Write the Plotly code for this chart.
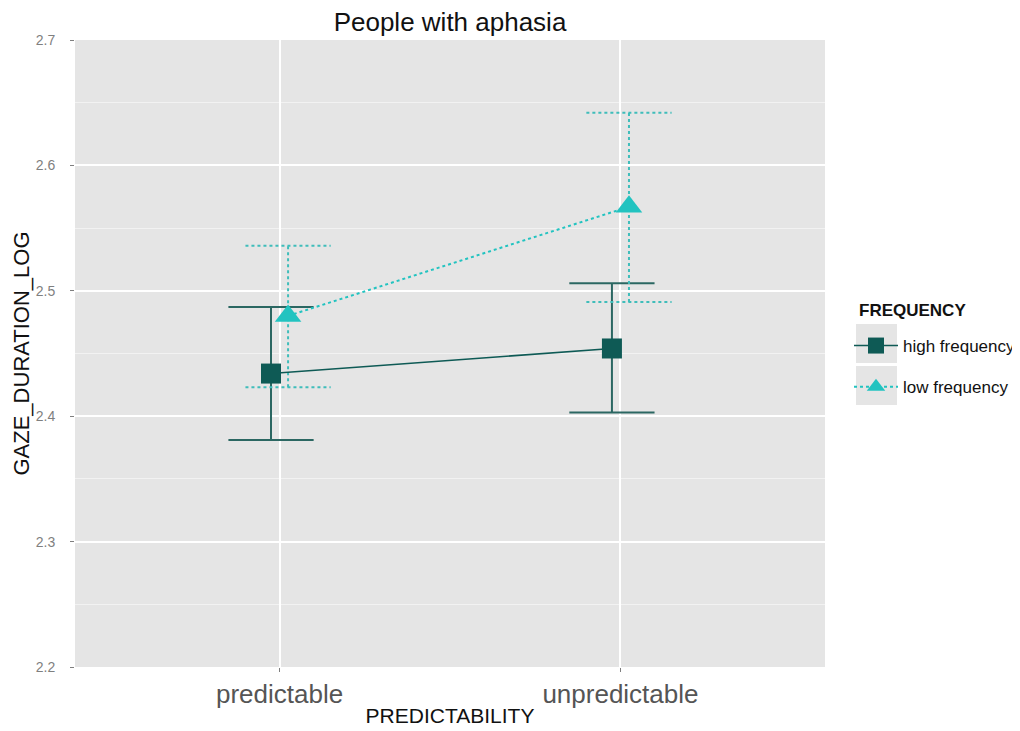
import plotly.graph_objects as go

categories = ["predictable", "unpredictable"]
cat_pos = [1, 2]
high_mean = [2.434, 2.454]
high_lower = [2.381, 2.403]
high_upper = [2.487, 2.506]
low_mean = [2.480, 2.567]
low_lower = [2.423, 2.491]
low_upper = [2.536, 2.642]
y_ticks = [2.2, 2.3, 2.4, 2.5, 2.6, 2.7]

HIGH_COL = "#0E5A55"
HIGH_BAR = "#2B6762"
LOW_COL = "#22C3C0"
LOW_BAR = "#3FBDBA"
dodge = 0.025
whisk = 0.125

# page body has an 8px margin; figure occupies screen x 8..1020, y 8..731
W, H = 1012, 723
L, R, T, B = 67, 195, 32, 64

fig = go.Figure()

def add_errorbars(xs, lo, hi, color, dash, width):
    ex, ey = [], []
    for x, l, h in zip(xs, lo, hi):
        ex += [x, x, None, x - whisk, x + whisk, None, x - whisk, x + whisk, None]
        ey += [l, h, None, l, l, None, h, h, None]
    fig.add_trace(go.Scatter(x=ex, y=ey, mode="lines", showlegend=False, hoverinfo="skip",
                             line=dict(color=color, width=width, dash=dash)))

hx = [p - dodge for p in cat_pos]
lx = [p + dodge for p in cat_pos]

add_errorbars(hx, high_lower, high_upper, HIGH_BAR, "solid", 2)
add_errorbars(lx, low_lower, low_upper, LOW_BAR, "dot", 2)

fig.add_trace(go.Scatter(x=hx, y=high_mean, mode="lines+markers", name="high frequency",
                         legendgroup="h",
                         line=dict(color=HIGH_COL, width=1.5),
                         marker=dict(symbol="square", size=20, color=HIGH_COL)))
fig.add_trace(go.Scatter(x=lx, y=low_mean, mode="lines+markers", name="low frequency",
                         legendgroup="l",
                         line=dict(color=LOW_COL, width=2, dash="dot"),
                         marker=dict(symbol="triangle-up", size=23, color=LOW_COL)))

# conversion helpers from screen pixels to plot-area (paper) fractions
px0, py0, pw, ph = 75, 667, 750, 627
def fx(sx):
    return (sx - px0) / pw
def fy(sy):
    return (py0 - sy) / ph

# legend key backgrounds (ggplot style)
for top, bot in [(324, 363), (366, 405)]:
    fig.add_shape(type="rect", xref="paper", yref="paper",
                  x0=fx(856), x1=fx(897), y0=fy(bot), y1=fy(top),
                  fillcolor="#E5E5E5", line=dict(width=0), layer="below")

fig.add_annotation(text="<b>FREQUENCY</b>", xref="paper", yref="paper",
                   x=fx(857), y=fy(310), xanchor="left", yanchor="middle",
                   showarrow=False, font=dict(size=17, color="#111"))

fig.update_layout(
    width=W, height=H,
    margin=dict(l=L, r=R, t=T, b=B, autoexpand=False),
    paper_bgcolor="white", plot_bgcolor="#E5E5E5",
    font=dict(family="Liberation Sans, Arial, sans-serif", color="#000"),
    title=dict(text="People with aphasia", x=442 / W, xanchor="center",
               y=1 - 14 / H, yanchor="middle", font=dict(size=26, color="#111")),
    showlegend=True,
    legend=dict(x=fx(849), y=fy(328), xanchor="left", yanchor="top", bgcolor="rgba(0,0,0,0)",
                font=dict(size=17, color="#111"), itemsizing="trace", tracegroupgap=16,
                itemwidth=44),
    xaxis=dict(range=[0.4, 2.6], tickmode="array", tickvals=cat_pos, ticktext=categories,
               showgrid=True, gridcolor="white", gridwidth=1.5, zeroline=False,
               ticks="outside", ticklen=4, tickcolor="#7F7F7F",
               tickfont=dict(size=26, color="#555555"),
               title=dict(text="PREDICTABILITY", font=dict(size=21, color="#111"), standoff=0)),
    yaxis=dict(range=[2.2, 2.7], tickmode="array", tickvals=y_ticks,
               ticktext=[f"{v:.1f}" for v in y_ticks],
               showgrid=True, gridcolor="white", gridwidth=1.5, zeroline=False,
               ticks="outside", ticklen=4, tickcolor="#7F7F7F", ticklabelstandoff=12,
               tickfont=dict(size=14, color="#7F7F7F"),
               minor=dict(tickmode="array", tickvals=[2.25, 2.35, 2.45, 2.55, 2.65],
                          showgrid=True, gridcolor="#F2F2F2", gridwidth=0.8, ticks=""),
               title=dict(text="GAZE_DURATION_LOG", font=dict(size=22, color="#111"), standoff=0)),
)

fig.write_html("out.html")
